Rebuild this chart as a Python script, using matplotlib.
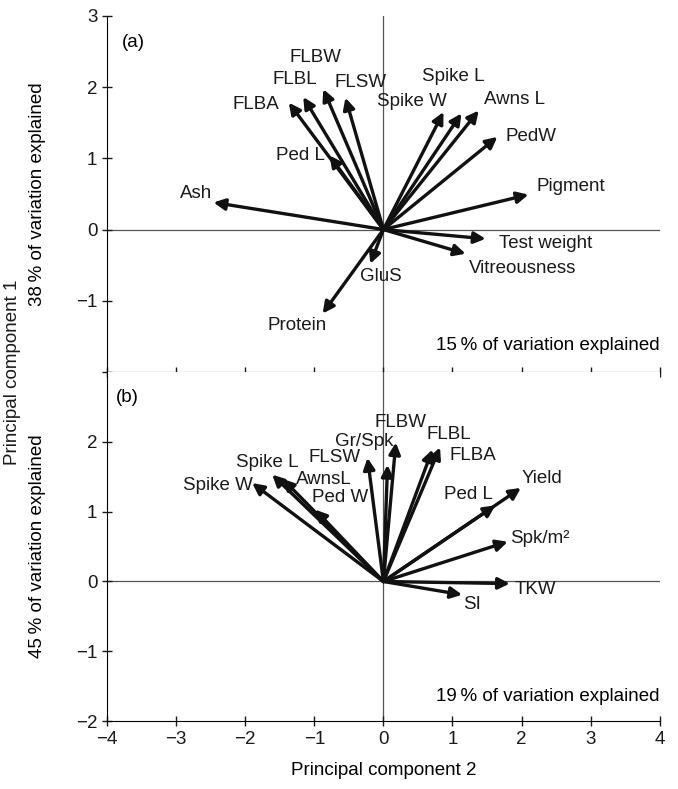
import matplotlib
matplotlib.use("Agg")
import matplotlib.pyplot as plt

plt.rcParams['font.family'] = ['Liberation Sans', 'DejaVu Sans']

# Panel (a) loadings: tip of each arrow (PC2, PC1)
a_names = ["FLBA", "FLBL", "FLBW", "FLSW", "Ped L", "Spike W", "Spike L", "Awns L",
           "PedW", "Pigment", "Test weight", "Vitreousness", "GluS", "Protein", "Ash"]
a_x = [-1.37, -1.16, -0.87, -0.55, -0.78, 0.87, 1.13, 1.38,
       1.65, 2.10, 1.48, 1.19, -0.19, -0.88, -2.46]
a_y = [1.78, 1.86, 1.97, 1.85, 1.04, 1.65, 1.63, 1.67,
       1.30, 0.49, -0.13, -0.34, -0.48, -1.18, 0.38]
# label centres
a_lx = [-1.84, -1.28, -0.99, -0.33, -1.20, 0.42, 1.01, 1.90,
        2.13, 2.71, 2.35, 2.01, -0.04, -1.25, -2.71]
a_ly = [1.75, 2.11, 2.42, 2.07, 1.04, 1.79, 2.15, 1.83,
        1.30, 0.61, -0.20, -0.55, -0.66, -1.35, 0.51]

# Panel (b)
b_names = ["Spike W", "Spike L", "AwnsL", "Ped W", "FLSW", "Gr/Spk", "FLBW", "FLBL",
           "FLBA", "Ped L", "Yield", "Spk/m\u00b2", "TKW", "SI"]
b_x = [-1.90, -1.61, -1.46, -0.99, -0.23, 0.06, 0.18, 0.71,
       0.82, 1.62, 1.99, 1.80, 1.83, 1.14]
b_y = [1.41, 1.53, 1.47, 1.03, 1.77, 1.67, 1.99, 1.89,
       1.92, 1.09, 1.34, 0.57, -0.03, -0.19]
b_lx = [-2.39, -1.68, -0.86, -0.62, -0.70, -0.28, 0.25, 0.94,
        1.29, 1.23, 2.29, 2.26, 2.20, 1.29]
b_ly = [1.37, 1.71, 1.46, 1.20, 1.77, 2.00, 2.27, 2.10,
        1.80, 1.24, 1.47, 0.61, -0.11, -0.33]

xticks = [-4, -3, -2, -1, 0, 1, 2, 3, 4]
fs = 13.5


def draw_panel(ax, xs, ys, names, lxs, lys):
    ax.axhline(0, color='#555555', lw=0.9, zorder=1)
    ax.axvline(0, color='#555555', lw=0.9, zorder=1)
    for x, y, n, lx, ly in zip(xs, ys, names, lxs, lys):
        ax.annotate('', xy=(x, y), xytext=(0, 0),
                    arrowprops=dict(arrowstyle='-|>', color='#111111', lw=2.4,
                                    mutation_scale=17, shrinkA=0, shrinkB=0))
        ax.text(lx, ly, n, fontsize=fs, ha='center', va='center', color='#1a1a1a')
    ax.set_xlim(-4, 4)
    ax.set_ylim(-2, 3)
    ax.set_xticks(xticks)
    for s in ['top', 'right']:
        ax.spines[s].set_visible(False)
    ax.tick_params(direction='inout', length=7, width=1, labelsize=fs, colors='#1a1a1a')


fig = plt.figure(figsize=(6.78, 7.89), dpi=100)
ax1 = fig.add_axes([0.158, 0.5285, 0.815, 0.4515])
ax2 = fig.add_axes([0.158, 0.086, 0.815, 0.4425])

draw_panel(ax1, a_x, a_y, a_names, a_lx, a_ly)
ax1.set_yticks([-2, -1, 0, 1, 2, 3])
ax1.set_yticklabels(['', '\u22121', '0', '1', '2', '3'])
ax1.set_xticklabels([])
ax1.text(-3.62, 2.62, '(a)', fontsize=fs, ha='center', va='center')
ax1.text(4, -1.63, '15\u2009% of variation explained', fontsize=fs, ha='right', va='center')
ax1.set_ylabel('38\u2009% of variation explained', fontsize=fs)
ax1.yaxis.set_label_coords(-0.11, 0.5)

draw_panel(ax2, b_x, b_y, b_names, b_lx, b_ly)
ax2.set_yticks([-2, -1, 0, 1, 2])
ax2.set_yticklabels(['\u22122', '\u22121', '0', '1', '2'])
ax2.set_xticklabels(['\u22124', '\u22123', '\u22122', '\u22121', '0', '1', '2', '3', '4'])
ax2.text(-3.71, 2.64, '(b)', fontsize=fs, ha='center', va='center')
ax2.text(4, -1.64, '19\u2009% of variation explained', fontsize=fs, ha='right', va='center')
ax2.set_ylabel('45\u2009% of variation explained', fontsize=fs)
ax2.yaxis.set_label_coords(-0.11, 0.5)
ax2.set_xlabel('Principal component 2', fontsize=fs, labelpad=10)

fig.text(0.018, 0.528, 'Principal component 1', rotation=90, fontsize=fs,
         ha='center', va='center', color='#1a1a1a')

fig.savefig('out.png', dpi=100)
